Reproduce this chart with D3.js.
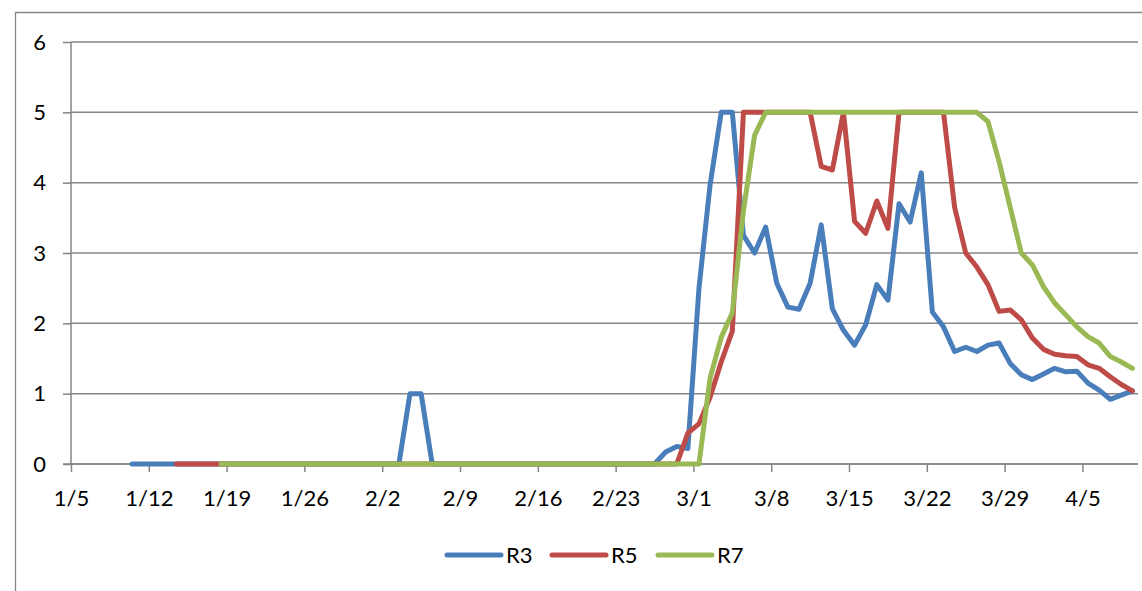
<!DOCTYPE html>
<html>
<head>
<meta charset="utf-8">
<script src="https://cdn.jsdelivr.net/npm/d3@7"></script>
<style>
  html, body { margin: 0; padding: 0; background: #fff; }
  svg { display: block; }
  text { font-family: Lato, "Open Sans", sans-serif; fill: #000; }
</style>
</head>
<body>
<svg id="chart" width="1142" height="591"></svg>
<script>
// ---- data ----
const axisStart = "2020-01-05";
const axisEnd = "2020-04-10";
const tickLabels = ["1/5","1/12","1/19","1/26","2/2","2/9","2/16","2/23","3/1","3/8","3/15","3/22","3/29","4/5"];
const yTicks = [0, 1, 2, 3, 4, 5, 6];
const seriesNames = ["R3", "R5", "R7"];
const seriesColors = ["#4A7EBB", "#BE4B48", "#98B954"];

// daily values, first value on the start date
const r3Start = "2020-01-10";
const r3 = [
  0,0,0,0,0,0,0,0,0,0,0,0,0,0,0,0,0,0,0,0,0,0,0,0,0,
  1,1,
  0,0,0,0,0,0,0,0,0,0,0,0,0,0,0,0,0,0,0,0,0,
  0.17,0.25,0.22,2.5,3.97,5,5,3.25,3.0,3.37,2.57,2.23,2.2,2.57,3.4,2.21,1.9,1.69,1.98,2.55,2.33,3.7,3.44,4.14,
  2.16,1.95,1.6,1.66,1.6,1.69,1.72,1.43,1.27,1.2,1.28,1.36,1.31,1.32,1.15,1.05,0.92,0.98,1.04
];
const r5Start = "2020-01-14";
const r5 = [
  0,0,0,0,0,0,0,0,0,0,0,0,0,0,0,0,0,0,0,0,0,0,0,0,0,0,0,0,0,0,0,0,0,0,0,0,0,0,0,0,0,0,0,0,0,0,
  0.44,0.57,0.95,1.45,1.89,5,5,5,5,5,5,5,4.23,4.18,5,3.45,3.28,3.74,3.35,5,5,5,5,5,
  3.65,3.0,2.8,2.55,2.17,2.19,2.05,1.79,1.63,1.56,1.54,1.53,1.41,1.36,1.24,1.13,1.04
];
const r7Start = "2020-01-18";
const r7 = [
  0,0,0,0,0,0,0,0,0,0,0,0,0,0,0,0,0,0,0,0,0,0,0,0,0,0,0,0,0,0,0,0,0,0,0,0,0,0,0,0,0,0,0,0,
  1.22,1.8,2.15,3.6,4.67,5,5,5,5,5,5,5,5,5,5,5,5,5,5,5,5,5,5,5,5,
  4.87,4.3,3.65,3.0,2.83,2.52,2.29,2.12,1.95,1.81,1.72,1.53,1.45,1.36
];

(function () {
  const svg = d3.select("#chart");
  const pLeft = 71, pRight = 1138, pTop = 42, pBottom = 464;
  const gridColor = "#868686";
  const parse = d3.utcParse("%Y-%m-%d");

  const x = d3.scaleUtc().domain([parse(axisStart), parse(axisEnd)]).range([pLeft, pRight]);
  const y = d3.scaleLinear().domain([0, 6]).range([pBottom, pTop]);

  // outer chart border
  svg.append("path")
    .attr("d", `M15.5,600 V12.5 H1150`)
    .attr("fill", "none").attr("stroke", gridColor).attr("stroke-width", 1.3);

  // gridlines
  svg.append("g").selectAll("line").data(yTicks).join("line")
    .attr("x1", pLeft).attr("x2", pRight)
    .attr("y1", d => y(d)).attr("y2", d => y(d))
    .attr("stroke", gridColor).attr("stroke-width", 1.5);

  // y axis
  const yAxis = d3.axisLeft(y).tickValues(yTicks).tickSize(8).tickPadding(17).tickFormat(d3.format("d"));
  const gy = svg.append("g").attr("transform", `translate(${pLeft},0)`).call(yAxis);
  gy.select(".domain").attr("stroke", gridColor).attr("stroke-width", 1.5).attr("d", `M0,${pTop}V${pBottom}`);
  gy.selectAll(".tick line").attr("stroke", gridColor).attr("stroke-width", 1.5);
  gy.selectAll(".tick text").attr("font-size", 22).attr("font-family", "Lato").attr("fill", "#000");

  // x axis
  const tickDates = tickLabels.map(t => {
    const [m, d] = t.split("/").map(Number);
    return new Date(Date.UTC(2020, m - 1, d));
  });
  const xAxis = d3.axisBottom(x).tickValues(tickDates).tickSize(8).tickPadding(18)
    .tickFormat((d, i) => tickLabels[i]);
  const gx = svg.append("g").attr("transform", `translate(0,${pBottom})`).call(xAxis);
  gx.select(".domain").remove();
  gx.selectAll(".tick line").attr("stroke", gridColor).attr("stroke-width", 1.5);
  gx.selectAll(".tick text").attr("font-size", 22).attr("font-family", "Lato").attr("fill", "#000");
  svg.append("line").attr("x1", pLeft - 8).attr("x2", pRight).attr("y1", pBottom).attr("y2", pBottom)
    .attr("stroke", gridColor).attr("stroke-width", 1.5);

  // series
  const HALF_DAY = 12 * 3600 * 1000;
  function toPoints(start, vals) {
    const s = parse(start);
    return vals.map((v, i) => ({ t: new Date(d3.utcDay.offset(s, i).getTime() + HALF_DAY), v }));
  }
  const series = [toPoints(r3Start, r3), toPoints(r5Start, r5), toPoints(r7Start, r7)];
  const line = d3.line().x(d => x(d.t)).y(d => y(d.v));

  svg.append("g").selectAll("path").data(series).join("path")
    .attr("d", line)
    .attr("fill", "none")
    .attr("stroke", (d, i) => seriesColors[i])
    .attr("stroke-width", 5)
    .attr("stroke-linejoin", "round")
    .attr("stroke-linecap", "round");

  // legend
  const legendX = [447, 552, 658];
  const legendY = 555;
  const lg = svg.append("g").selectAll("g").data(seriesNames).join("g")
    .attr("transform", (d, i) => `translate(${legendX[i]},${legendY})`);
  lg.append("line").attr("x1", 0).attr("x2", 54).attr("y1", 0).attr("y2", 0)
    .attr("stroke", (d, i) => seriesColors[i]).attr("stroke-width", 5).attr("stroke-linecap", "round");
  lg.append("text").attr("x", 59).attr("y", 8).attr("font-size", 22).text(d => d);
})();
</script>
</body>
</html>
